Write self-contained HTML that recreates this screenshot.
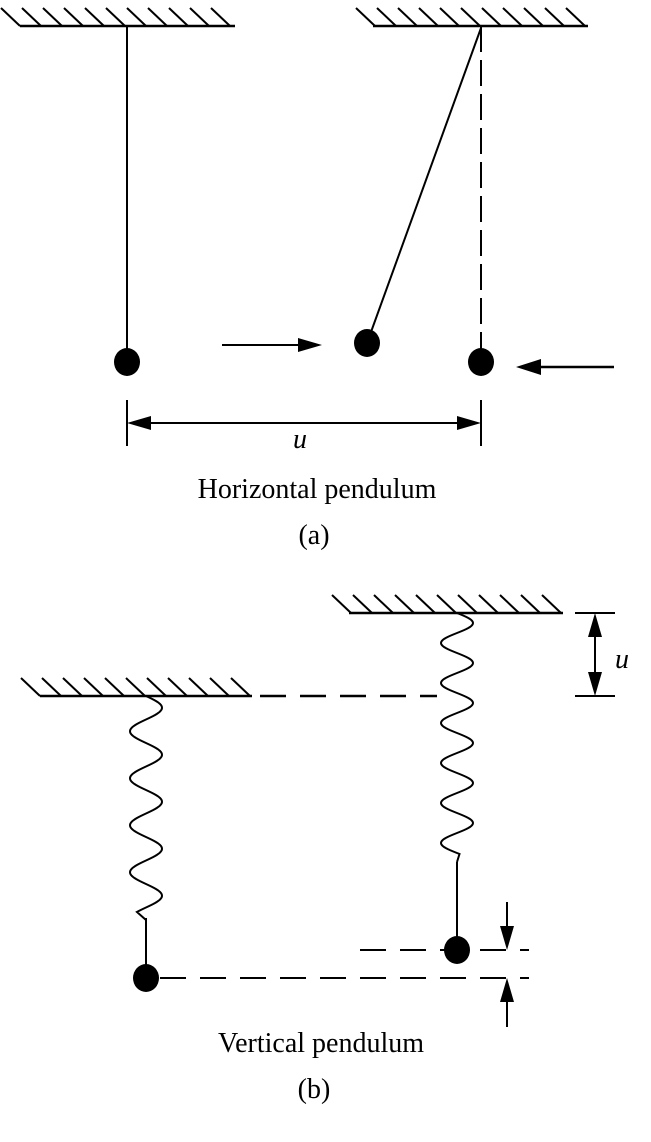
<!DOCTYPE html>
<html><head><meta charset="utf-8"><style>
html,body{margin:0;padding:0;background:#fff;}
svg{display:block}
text{font-family:"Liberation Serif",serif;fill:#000}
</style></head><body>
<svg id="s" width="651" height="1142" viewBox="0 0 651 1142" xmlns="http://www.w3.org/2000/svg">
<g stroke="#000" stroke-width="2" fill="none" id="g">
<line x1="20" y1="26" x2="235" y2="26" stroke-width="2.5"/>
<line x1="373" y1="26" x2="588" y2="26" stroke-width="2.5"/>
<line x1="127" y1="26" x2="127" y2="350"/>
<line x1="481" y1="28" x2="371" y2="332"/>
<line x1="481" y1="26" x2="481" y2="350" stroke-dasharray="26,8"/>
<line x1="222" y1="345" x2="302" y2="345"/>
<line x1="614" y1="367" x2="536" y2="367" stroke-width="2.5"/>
<line x1="127" y1="400" x2="127" y2="446"/>
<line x1="481" y1="400" x2="481" y2="446"/>
<line x1="145" y1="423" x2="463" y2="423"/>
<line x1="349" y1="613" x2="563" y2="613" stroke-width="2.5"/>
<line x1="40" y1="696" x2="252" y2="696" stroke-width="2.5"/>
<line x1="252" y1="696" x2="437" y2="696" stroke-width="2.5" stroke-dasharray="26,14" stroke-dashoffset="-8"/>
<line x1="575" y1="613" x2="615" y2="613"/>
<line x1="575" y1="696" x2="615" y2="696"/>
<line x1="595" y1="630" x2="595" y2="680"/>
<line x1="146" y1="918" x2="146" y2="970"/>
<line x1="457" y1="862" x2="457" y2="945"/>
<line x1="160" y1="978" x2="529" y2="978" stroke-dasharray="26,14"/>
<line x1="360" y1="950" x2="529" y2="950" stroke-dasharray="26,14"/>
<line x1="507" y1="902" x2="507" y2="935"/>
<line x1="507" y1="1027" x2="507" y2="995"/>
</g>
<g fill="#000">
<ellipse cx="127" cy="362" rx="13" ry="14"/>
<ellipse cx="481" cy="362" rx="13" ry="14"/>
<ellipse cx="367" cy="343" rx="13" ry="14"/>
<ellipse cx="146" cy="978" rx="13" ry="14"/>
<ellipse cx="457" cy="950" rx="13" ry="14"/>
<polygon points="322,345 298,338 298,352"/>
<polygon points="516,367 541,359 541,375"/>
<polygon points="127,423 151,416 151,430"/>
<polygon points="481,423 457,416 457,430"/>
<polygon points="595,613 588,637 602,637"/>
<polygon points="595,696 588,672 602,672"/>
<polygon points="507,950 500,926 514,926"/>
<polygon points="507,978 500,1002 514,1002"/>
</g>
<text x="300" y="448" font-size="28" font-style="italic" text-anchor="middle">u</text>
<text x="317" y="498" font-size="28" text-anchor="middle">Horizontal pendulum</text>
<text x="314" y="544" font-size="28" text-anchor="middle">(a)</text>
<text x="622" y="668" font-size="28" font-style="italic" text-anchor="middle">u</text>
<text x="321" y="1052" font-size="28" text-anchor="middle">Vertical pendulum</text>
<text x="314" y="1098" font-size="28" text-anchor="middle">(b)</text>
</svg>
<script>
var g=document.getElementById('g'),NS='http://www.w3.org/2000/svg';
function ln(a,b,c,d){var l=document.createElementNS(NS,'line');l.setAttribute('x1',a);l.setAttribute('y1',b);l.setAttribute('x2',c);l.setAttribute('y2',d);g.appendChild(l);}
function hatch(x0,y,n,step){for(var i=0;i<n;i++){var x=x0+i*step;ln(x,y-18,x+19,y);}}
hatch(1,26,11,21);hatch(356,26,11,21);hatch(332,613,11,21);hatch(21,696,11,21);
function spring(cx,y0,y1,amp,period,endx){
 var d='M'+cx+' '+y0;var len=y1-y0;
 for(var t=0;t<=len;t+=1){var x=cx+amp*Math.sin(2*Math.PI*t/period);d+=' L'+x.toFixed(2)+' '+(y0+t);}
 d+=' L'+endx+' '+(y1+8);
 var p=document.createElementNS(NS,'path');p.setAttribute('d',d);g.appendChild(p);}
spring(146,696,912,16,47,146);
spring(457,613,854,16,40,457);
</script>
</body></html>
